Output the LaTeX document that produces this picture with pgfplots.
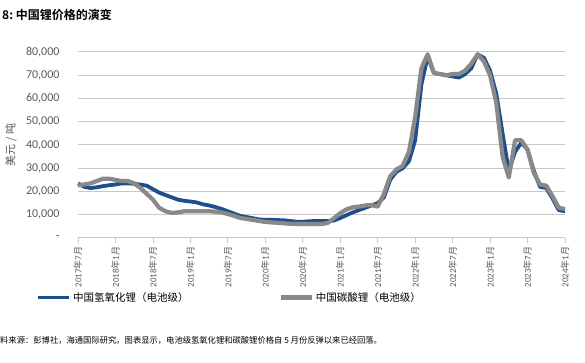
\documentclass[border=0pt]{standalone}
\usepackage{pgfplots}
\pgfplotsset{compat=1.18}
\usepackage{pgfplotstable}
\usepackage{fontspec}
\setmainfont{Carlito}
\newfontfamily\cjk{Noto Sans CJK SC}
\newfontfamily\cjkb{Noto Sans CJK SC Bold}
\newcommand\ym[2]{#1{\cjk 年}#2{\cjk 月}}
\definecolor{cblue}{RGB}{31,78,140}
\definecolor{cgray}{RGB}{137,137,137}
\definecolor{tgray}{RGB}{89,89,89}
\definecolor{ggray}{RGB}{200,200,200}
\pgfplotstableread{
m lioh li2co3
0 23500 22700
1 22000 23000
2 21500 23500
3 21800 24500
4 22300 25500
5 22700 25500
6 23000 25000
7 23500 24500
8 23500 24500
9 23300 23500
10 23000 21500
11 22500 19000
12 21000 16500
13 19500 13000
14 18500 11500
15 17500 10800
16 16500 11000
17 16000 11500
18 15700 11500
19 15300 11500
20 14500 11500
21 14000 11500
22 13300 11300
23 12500 11000
24 11500 10300
25 10500 9500
26 9500 8600
27 9000 8200
28 8500 7800
29 8000 7300
30 7800 6900
31 7800 6700
32 7700 6500
33 7600 6300
34 7300 6100
35 7000 6000
36 7000 6000
37 7200 6000
38 7300 6000
39 7300 6000
40 7300 6500
41 7500 8500
42 8600 10700
43 9800 12300
44 11000 13200
45 12000 13500
46 13000 14000
47 14000 14200
48 15000 13500
49 17500 19000
50 25000 26500
51 28500 29500
52 30000 31000
53 33000 37000
54 42000 52000
55 66000 73000
56 78000 79000
57 71000 71000
58 70500 70500
59 70000 70000
60 69500 70500
61 69000 70500
62 70500 72000
63 73000 75000
64 79000 79000
65 77500 76000
66 72000 70000
67 62000 58000
68 45000 35000
69 29000 26000
70 37000 42000
71 41000 42000
72 38000 38000
73 29000 28000
74 22000 23000
75 21500 22500
76 17000 18000
77 12000 13000
78 11500 12500
}\prices
\begin{document}
\begin{tikzpicture}[x=1pt,y=1pt]
\path (0,0) rectangle (585,363);
\node[anchor=west,inner sep=0pt] at (2,348) {\cjkb\fontsize{12}{14}\selectfont 8:\ 中国锂价格的演变};
\node[rotate=90,inner sep=0pt,text=tgray] at (11,218) {\cjk\fontsize{11}{13}\selectfont 美元 / 吨};
\node[anchor=west,inner sep=0pt] at (0,23) {\cjk\fontsize{8.3}{10}\selectfont 料来源：彭博社，海通国际研究。图表显示，电池级氢氧化锂和碳酸锂价格自 5 月份反弹以来已经回落。};
\begin{axis}[
  at={(78pt,125pt)}, anchor=south west,
  scale only axis, width=487pt, height=186pt,
  xmin=0, xmax=78, ymin=0, ymax=80000,
  enlargelimits=false, clip=false,
  scaled y ticks=false,
  axis lines*=left,
  y axis line style={draw=none},
  x axis line style={ggray, line width=1pt, -},
  ytick={0,10000,20000,30000,40000,50000,60000,70000,80000},
  yticklabels={{-},{10,000},{20,000},{30,000},{40,000},{50,000},{60,000},{70,000},{80,000}},
  ytick style={draw=none},
  yticklabel style={text=tgray, font=\fontsize{12}{14}\selectfont, xshift=-10pt},
  ymajorgrids, grid style={ggray, line width=1pt},
  xtick={0,6,...,78},
  xticklabels={\ym{2017}{7},\ym{2018}{1},\ym{2018}{7},\ym{2019}{1},\ym{2019}{7},\ym{2020}{1},\ym{2020}{7},\ym{2021}{1},\ym{2021}{7},\ym{2022}{1},\ym{2022}{7},\ym{2023}{1},\ym{2023}{7},\ym{2024}{1}},
  xticklabel style={rotate=90, anchor=east, text=tgray, font=\fontsize{9}{10}\selectfont},
  xtick style={ggray, line width=0.8pt},
  tick align=outside, major tick length=5pt,
  legend columns=2,
  legend style={at={(-0.086,-0.32)}, anchor=west, draw=none, fill=none,
    font=\cjk\fontsize{10.5}{12}\selectfont,
    /tikz/column 2/.style={column sep=88pt},
    inner sep=0pt},
  legend cell align=left,
  legend image code/.code={\draw[#1] (0pt,0pt) -- (31pt,0pt);},
]
\addplot[cblue, line width=3.8pt, line join=round] table[x=m, y=lioh] {\prices};
\addlegendentry{中国氢氧化锂（电池级）}
\addplot[cgray, line width=4.2pt, line join=round] table[x=m, y=li2co3] {\prices};
\addlegendentry{中国碳酸锂（电池级）}
\end{axis}
\end{tikzpicture}
\end{document}
